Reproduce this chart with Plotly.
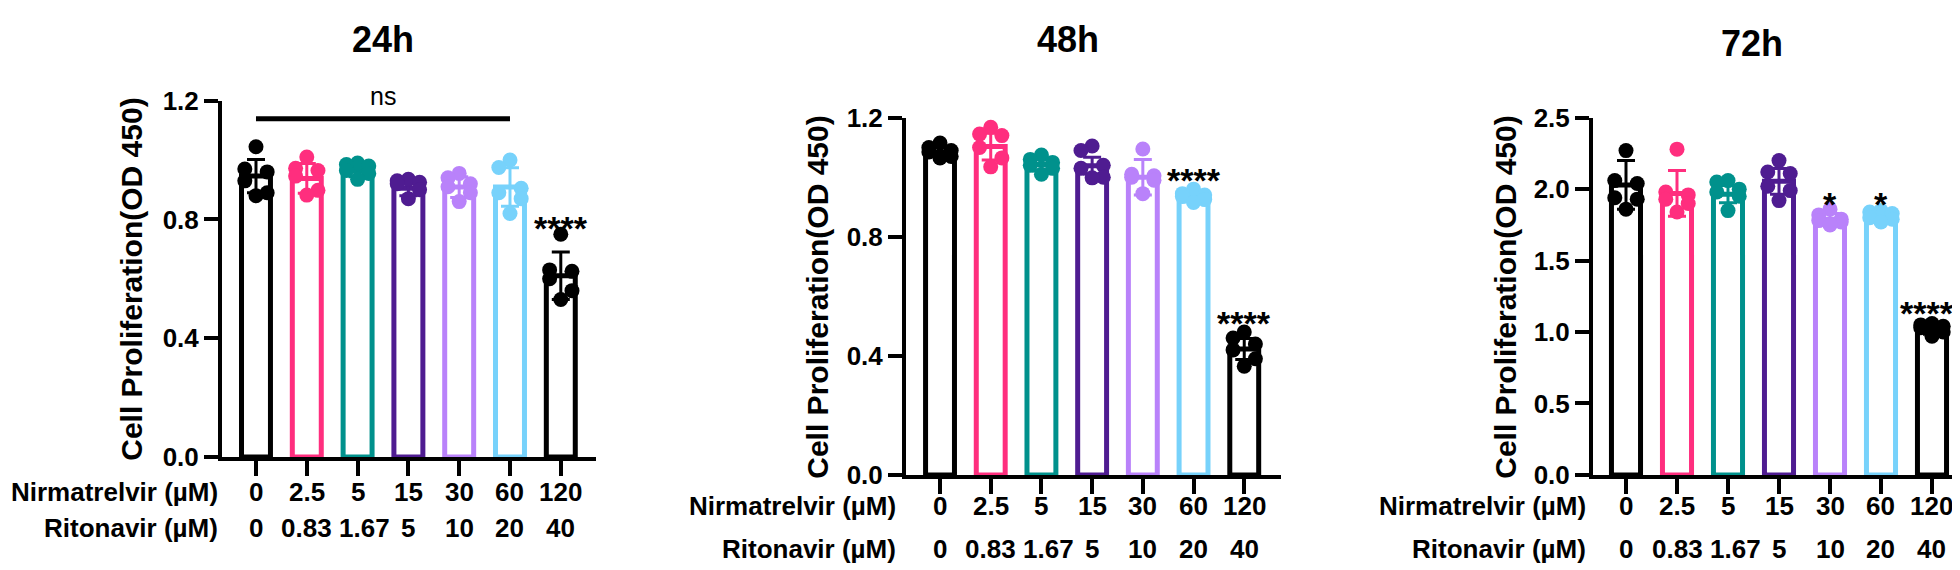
import plotly.graph_objects as go

# ---------------- data ----------------
nirmatrelvir = ["0", "2.5", "5", "15", "30", "60", "120"]
ritonavir = ["0", "0.83", "1.67", "5", "10", "20", "40"]
panel_titles = ["24h", "48h", "72h"]

mean_24h = [0.946, 0.938, 0.964, 0.905, 0.909, 0.909, 0.610]
sd_24h = [0.056, 0.050, 0.020, 0.025, 0.035, 0.065, 0.080]
points_24h = [
    [1.045, 0.97, 0.96, 0.93, 0.89, 0.88],
    [1.01, 0.972, 0.965, 0.946, 0.898, 0.882],
    [0.99, 0.985, 0.98, 0.965, 0.955, 0.935],
    [0.935, 0.93, 0.925, 0.92, 0.90, 0.87],
    [0.955, 0.94, 0.92, 0.91, 0.89, 0.86],
    [1.0, 0.975, 0.905, 0.89, 0.87, 0.82],
    [0.75, 0.63, 0.625, 0.60, 0.56, 0.53],
]

mean_48h = [1.085, 1.103, 1.043, 1.039, 1.0, 0.93, 0.423]
sd_48h = [0.015, 0.045, 0.022, 0.028, 0.06, 0.012, 0.035]
points_48h = [
    [1.115, 1.10, 1.09, 1.085, 1.07, 1.065],
    [1.168, 1.145, 1.14, 1.10, 1.065, 1.035],
    [1.075, 1.06, 1.05, 1.04, 1.03, 1.01],
    [1.105, 1.09, 1.04, 1.03, 1.0, 0.998],
    [1.095, 1.01, 1.005, 1.0, 0.99, 0.945],
    [0.96, 0.945, 0.94, 0.935, 0.925, 0.915],
    [0.48, 0.46, 0.44, 0.42, 0.39, 0.365],
]

mean_72h = [2.03, 1.97, 1.965, 2.055, 1.79, 1.80, 1.015]
sd_72h = [0.17, 0.16, 0.06, 0.09, 0.04, 0.03, 0.03]
points_72h = [
    [2.27, 2.06, 2.04, 1.94, 1.93, 1.86],
    [2.28, 1.98, 1.96, 1.93, 1.90, 1.84],
    [2.06, 2.05, 2.0, 1.98, 1.95, 1.85],
    [2.20, 2.12, 2.11, 2.02, 1.99, 1.92],
    [1.86, 1.82, 1.79, 1.78, 1.77, 1.75],
    [1.85, 1.84, 1.83, 1.80, 1.79, 1.77],
    [1.06, 1.05, 1.04, 1.03, 1.0, 0.97],
]

# significance labels: (category index, text, y value)
sig_24h = [(6, "****", 0.772)]
sig_48h = [(5, "****", 0.99), (6, "****", 0.509)]
sig_72h = [(4, "*", 1.897), (5, "*", 1.897), (6, "****", 1.134)]
ns_bracket_24h = (0, 5, 1.139, "ns")  # from cat, to cat, line y, text

y_ticks_12 = [0.0, 0.4, 0.8, 1.2]
y_ticks_25 = [0.0, 0.5, 1.0, 1.5, 2.0, 2.5]

# ---------------- style ----------------
W, H = 1960, 570
colors = ["#000000", "#FF2E7E", "#00918C", "#4F1C91", "#B982FA", "#77D2FB", "#000000"]
FONT = "Liberation Sans, Arial, Helvetica, sans-serif"
JITTER = [0.0, -0.22, 0.22, -0.22, 0.22, 0.0]
BAR_W = 0.57
NS_TEXT_PX_Y = 77

def fx(p):
    return p / W

def fy(p):
    return 1 - p / H

panels = [
    dict(means=mean_24h, sds=sd_24h, pts=points_24h, sig=sig_24h, yt=y_ticks_12, ymax=1.2,
         xdom=(214, 588), ydom=(458, 82), xr=(-0.669, 6.693),
         title_xy=(375, 17), ytitle_xy=(124, 270), row1=495, row2=533, rowlab_x=212),
    dict(means=mean_48h, sds=sd_48h, pts=points_48h, sig=sig_48h, yt=y_ticks_12, ymax=1.2,
         xdom=(898, 1273), ydom=(477, 100), xr=(-0.671, 6.725),
         title_xy=(1060, 17), ytitle_xy=(810, 290), row1=510, row2=555, rowlab_x=890),
    dict(means=mean_72h, sds=sd_72h, pts=points_72h, sig=sig_72h, yt=y_ticks_25, ymax=2.5,
         xdom=(1585, 1960), ydom=(477, 100), xr=(-0.647, 6.706),
         title_xy=(1744, 22), ytitle_xy=(1498, 290), row1=510, row2=555, rowlab_x=1580),
]

fig = go.Figure()
annotations = []
shapes = []
layout = {}

for pi, p in enumerate(panels):
    n = pi + 1
    xa = "x" if n == 1 else f"x{n}"
    ya = "y" if n == 1 else f"y{n}"
    idx = list(range(len(nirmatrelvir)))

    for i in idx:
        fig.add_trace(go.Bar(
            x=[i], y=[p["means"][i]], width=BAR_W, xaxis=xa, yaxis=ya,
            marker=dict(color="white", line=dict(color=colors[i], width=5)),
            error_y=dict(type="data", array=[p["sds"][i]], color=colors[i],
                         thickness=3, width=9),
            showlegend=False, hoverinfo="skip"))
    for i in idx:
        vals = sorted(p["pts"][i], reverse=True)
        xs = [i + JITTER[k % len(JITTER)] for k in range(len(vals))]
        fig.add_trace(go.Scatter(
            x=xs, y=vals, mode="markers", xaxis=xa, yaxis=ya, cliponaxis=False,
            marker=dict(size=15, color=colors[i], line=dict(width=0)),
            showlegend=False, hoverinfo="skip"))

    layout["xaxis" if n == 1 else f"xaxis{n}"] = dict(
        domain=[fx(p["xdom"][0]), fx(p["xdom"][1])], range=list(p["xr"]), anchor=ya,
        showline=True, linecolor="black", linewidth=4, ticks="outside", ticklen=15,
        tickwidth=4, tickcolor="black", tickvals=idx, showticklabels=False,
        showgrid=False, zeroline=False, fixedrange=True)
    layout["yaxis" if n == 1 else f"yaxis{n}"] = dict(
        domain=[fy(p["ydom"][0]), fy(p["ydom"][1])], range=[0, p["ymax"]], anchor=xa,
        showline=True, linecolor="black", linewidth=4, ticks="outside", ticklen=14,
        tickwidth=4, tickcolor="black", tickvals=p["yt"],
        ticktext=[f"{v:.1f}" for v in p["yt"]],
        tickfont=dict(family=FONT, size=26, color="black", weight="bold"),
        showgrid=False, zeroline=False, fixedrange=True)

    annotations.append(dict(text=panel_titles[pi], x=fx(p["title_xy"][0]), y=fy(p["title_xy"][1]),
                            xref="paper", yref="paper", showarrow=False, xanchor="center", yanchor="middle",
                            font=dict(family=FONT, size=36, color="black", weight="bold")))
    annotations.append(dict(text="Cell Proliferation(OD 450)", x=fx(p["ytitle_xy"][0]), y=fy(p["ytitle_xy"][1]),
                            xref="paper", yref="paper", showarrow=False, textangle=-90,
                            xanchor="center", yanchor="middle",
                            font=dict(family=FONT, size=30, color="black", weight="bold")))
    for row_y, lab in ((p["row1"], "Nirmatrelvir (µM)"), (p["row2"], "Ritonavir (µM)")):
        annotations.append(dict(text=lab, x=fx(p["rowlab_x"]), y=fy(row_y), xref="paper", yref="paper",
                                showarrow=False, xanchor="right", yanchor="middle",
                                font=dict(family=FONT, size=26, color="black", weight="bold")))
    for i in idx:
        annotations.append(dict(text=nirmatrelvir[i], x=i, y=fy(p["row1"]), xref=xa, yref="paper",
                                showarrow=False, xanchor="center", yanchor="middle",
                                font=dict(family=FONT, size=26, color="black", weight="bold")))
        annotations.append(dict(text=ritonavir[i], x=i, y=fy(p["row2"]), xref=xa, yref="paper",
                                showarrow=False, xanchor="center", yanchor="middle",
                                xshift=7 if ritonavir[i] == "1.67" else 0,
                                font=dict(family=FONT, size=26, color="black", weight="bold")))
    for (ci, txt, yv) in p["sig"]:
        annotations.append(dict(text=txt, x=ci, y=yv, xref=xa, yref=ya, showarrow=False,
                                xanchor="center", yanchor="middle",
                                xshift=-5 if (n == 3 and ci == 6) else 0,
                                font=dict(family=FONT, size=34, color="black", weight="bold")))

# ns bracket on 24h
c0, c1, ly, t = ns_bracket_24h
shapes.append(dict(type="line", xref="x", yref="y", x0=c0, x1=c1, y0=ly, y1=ly,
                   line=dict(color="black", width=5)))
annotations.append(dict(text=t, x=(c0 + c1) / 2, y=fy(NS_TEXT_PX_Y), xref="x", yref="paper",
                        showarrow=False, xanchor="center", yanchor="middle",
                        font=dict(family=FONT, size=25, color="black")))

fig.update_layout(
    width=W, height=H, margin=dict(l=0, r=0, t=0, b=0),
    paper_bgcolor="white", plot_bgcolor="white",
    annotations=annotations, shapes=shapes, showlegend=False, barmode="overlay",
    **layout)

fig.write_html("out.html")
